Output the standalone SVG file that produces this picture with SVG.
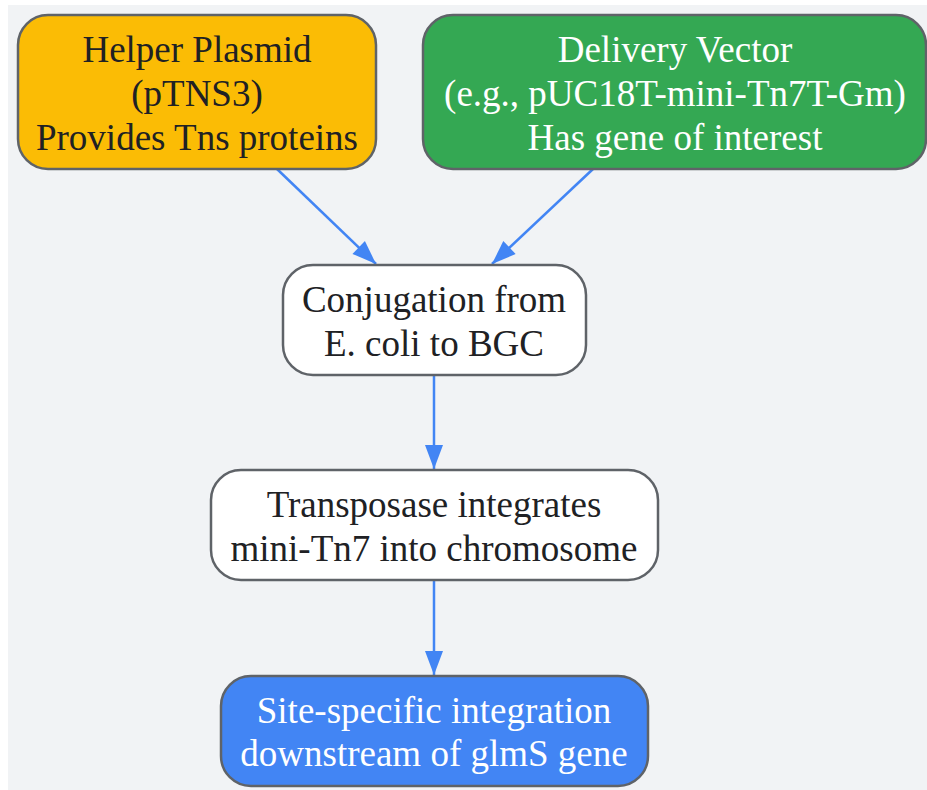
<svg xmlns="http://www.w3.org/2000/svg" width="927" height="790" viewBox="0 0 927 790">
<style>
.n{stroke:#5f6368;stroke-width:2.5}
.t{font-family:"Liberation Serif","Times New Roman",serif;font-size:37px;text-anchor:middle;fill:#202124}
.w{fill:#ffffff}
.e{stroke:#4285f4;stroke-width:2.5;fill:none;marker-end:url(#a)}
</style>
<defs>
<marker id="a" viewBox="-25 -10 26 20" refX="0" refY="0" markerWidth="26" markerHeight="20" markerUnits="userSpaceOnUse" orient="auto" overflow="visible">
<path d="M-24,-9 L0,0 L-24,9 z" fill="#4285f4"/>
</marker>
</defs>
<rect x="8" y="5" width="919" height="785" fill="#f1f3f5"/>
<g id="edges">
<line class="e" x1="277" y1="169" x2="376" y2="264"/>
<line class="e" x1="593" y1="169" x2="492" y2="264"/>
<line class="e" x1="434" y1="375" x2="434" y2="469"/>
<line class="e" x1="434" y1="580" x2="434" y2="675"/>
</g>
<g id="helper">
<rect class="n" x="18" y="15" width="358" height="154" rx="30" fill="#fbbc05"/>
<text class="t" x="197" y="62">Helper Plasmid</text>
<text class="t" x="197" y="106">(pTNS3)</text>
<text class="t" x="197" y="150">Provides Tns proteins</text>
</g>
<g id="delivery">
<rect class="n" x="423" y="15" width="503" height="154" rx="30" fill="#34a853"/>
<text class="t w" x="675" y="62">Delivery Vector</text>
<text class="t w" x="675" y="106">(e.g., pUC18T-mini-Tn7T-Gm)</text>
<text class="t w" x="675" y="150">Has gene of interest</text>
</g>
<g id="conjugation">
<rect class="n" x="283" y="265" width="303" height="110" rx="30" fill="#ffffff"/>
<text class="t" x="434" y="312">Conjugation from</text>
<text class="t" x="434" y="356">E. coli to BGC</text>
</g>
<g id="transposase">
<rect class="n" x="211" y="470" width="447" height="110" rx="30" fill="#ffffff"/>
<text class="t" x="434" y="517">Transposase integrates</text>
<text class="t" x="434" y="561">mini-Tn7 into chromosome</text>
</g>
<g id="site">
<rect class="n" x="221" y="676" width="427" height="110" rx="30" fill="#4285f4"/>
<text class="t w" x="434" y="723">Site-specific integration</text>
<text class="t w" x="434" y="766">downstream of glmS gene</text>
</g>
</svg>
